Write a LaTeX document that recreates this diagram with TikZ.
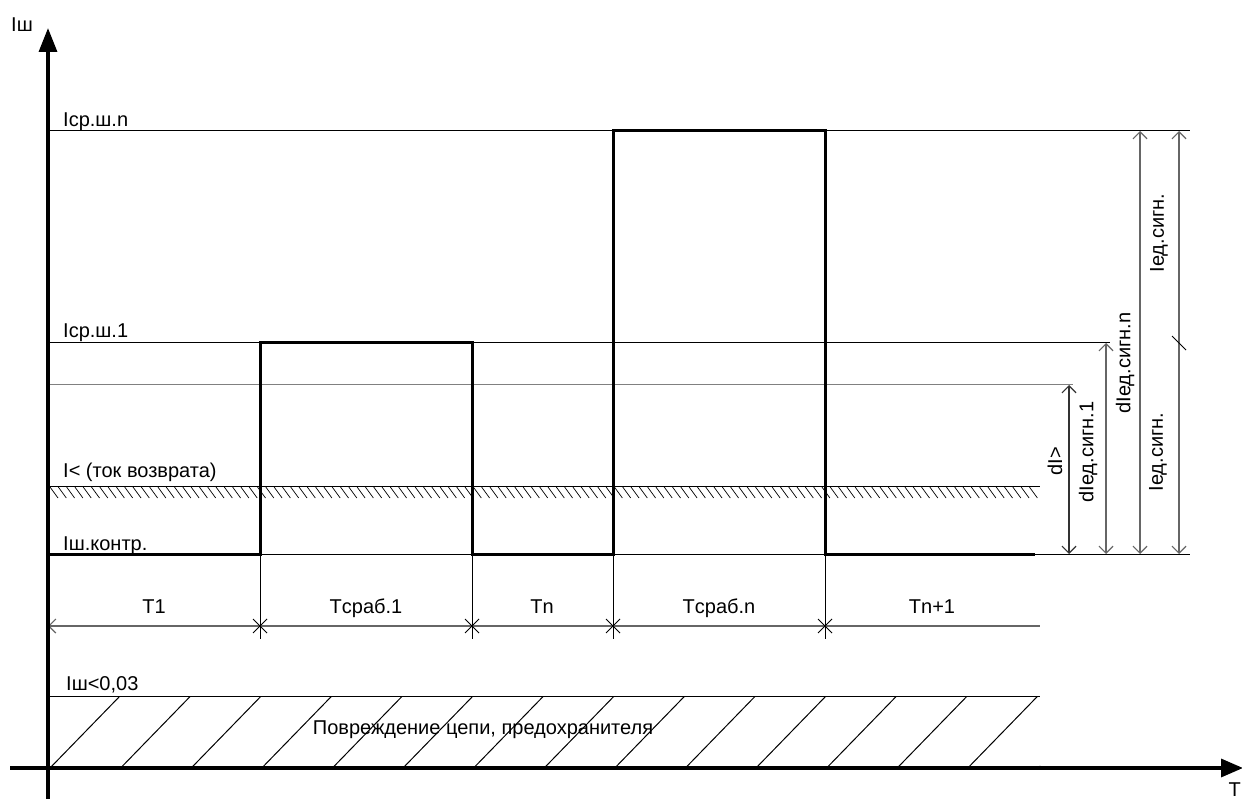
\documentclass[tikz,border=0pt]{standalone}
\usepackage{fontspec}
\setmainfont{Liberation Sans}
\usetikzlibrary{arrows.meta, calc}

\begin{document}
\begin{tikzpicture}[x=1pt,y=-1pt,
    every node/.style={font=\fontsize{20}{24}\selectfont, inner sep=0pt},
    thinline/.style={line width=1pt},
    dimline/.style={line width=1.2pt, gray!80!black},
    signal/.style={line width=3pt, line join=miter},
    axisline/.style={line width=3.4pt}]
  \tikzset{>={Straight Barb[length=7pt,width=14pt]}}
  \useasboundingbox (0,0) rectangle (1242,799);
  \def\xl{48}
  \def\xr{1040}
  \def\yn{131}
  \def\yone{343}
  \def\ydi{385}
  \def\yret{486}
  \def\yk{554}
  \def\yt{626}
  \def\yf{696}
  \def\yax{768}

  \coordinate (O) at (\xl,\yax);
  \coordinate (S0) at (\xl,\yk);
  \coordinate (S1) at (260,\yone);
  \coordinate (S2) at (472,\yk);
  \coordinate (S3) at (613,\yn);
  \coordinate (S4) at (825,\yk);
  \coordinate (S5) at (1035,\yk);

  % reference levels
  \draw[thinline] (\xl,\yn) -- (1190,\yn);
  \draw[thinline] (\xl,\yone) -- (1110,\yone);
  \draw[thinline,gray] (\xl,\ydi) -- (1073,\ydi);
  \draw[thinline] (\xl,\yret) -- (\xr,\yret);
  \foreach \h in {0,...,118}
    \draw[line width=0.7pt] ({50+8.3*\h},\yret+1) -- ++(8,11);
  \draw[thinline] (\xl,\yk) -- (1190,\yk);
  \draw[thinline] (\xl,\yf) -- (\xr,\yf);
  \begin{scope}
    \clip (\xl,\yf) rectangle (\xr,\yax);
    \foreach \k in {0,...,14}
      \draw[thinline] ({50+70.6*\k},\yax) -- ++(70,-72);
  \end{scope}

  \node[anchor=base west] (lvln) at (63,127) {Iср.ш.n};
  \node[anchor=base west] (lvl1) at (63,338) {Iср.ш.1};
  \node[anchor=base west] (lvlret) at (63,477) {I< (ток возврата)};
  \node[anchor=base west] (lvlk) at (63,550) {Iш.контр.};
  \node[anchor=base west] (lvlf) at (66,690) {Iш<0,03};
  \node (dmg) at (483,730) {Повреждение цепи, предохранителя};

  % time intervals
  \draw[dimline,<-] (\xl,\yt) -- (\xr,\yt);
  \foreach \t in {260,472,613,825} {
    \draw[thinline] (\t,\yk) -- (\t,639);
    \draw[thinline] (\t-7,\yt-7) -- (\t+7,\yt+7) (\t-7,\yt+7) -- (\t+7,\yt-7);
  }
  \foreach \xm/\lab/\nm in {154/T1/t1, 366/Tсраб.1/tsw1, 542/Tn/tn, 719/Tсраб.n/tswn, 932/Tn+1/tnn}
    \node[anchor=base] (\nm) at (\xm,613) {\lab};

  % signal
  \draw[signal] (S0) -- (S0 -| S1) -- (S1) -- (S1 -| S2) -- (S2) -- (S2 -| S3) -- (S3)
    -- (S3 -| S4) -- (S4) -- (S5);

  % dimensions
  \draw[dimline,black!80,<->] (1069,\ydi) -- (1069,\yk);
  \draw[dimline,<->] (1106,\yone) -- (1106,\yk);
  \draw[dimline,<->] (1140,\yn) -- (1140,\yk);
  \draw[dimline,<->] (1179,\yn) -- (1179,\yk);
  \draw[thinline] (1172,\yone-7) -- (1186,\yone+7);
  \node[rotate=90] (ddi) at (1055,461) {dI>};
  \node[rotate=90] (dsig1) at (1088,452) {dIед.сигн.1};
  \node[rotate=90] (dsign) at (1125,363) {dIед.сигн.n};
  \node[rotate=90] (sigup) at (1159,233) {Iед.сигн.};
  \node[rotate=90] (siglo) at (1158,452) {Iед.сигн.};

  % axes
  \draw[axisline,-{Triangle[length=24pt,width=18pt]}] (\xl,799) -- (\xl,28);
  \draw[axisline,-{Triangle[length=22pt,width=18pt]}] (10,\yax) -- (1243,\yax);
  \node[anchor=base west] (ylab) at (11,32) {Iш};
  \node[anchor=base east] (xlab) at (1241,796) {T};
\end{tikzpicture}
\end{document}
